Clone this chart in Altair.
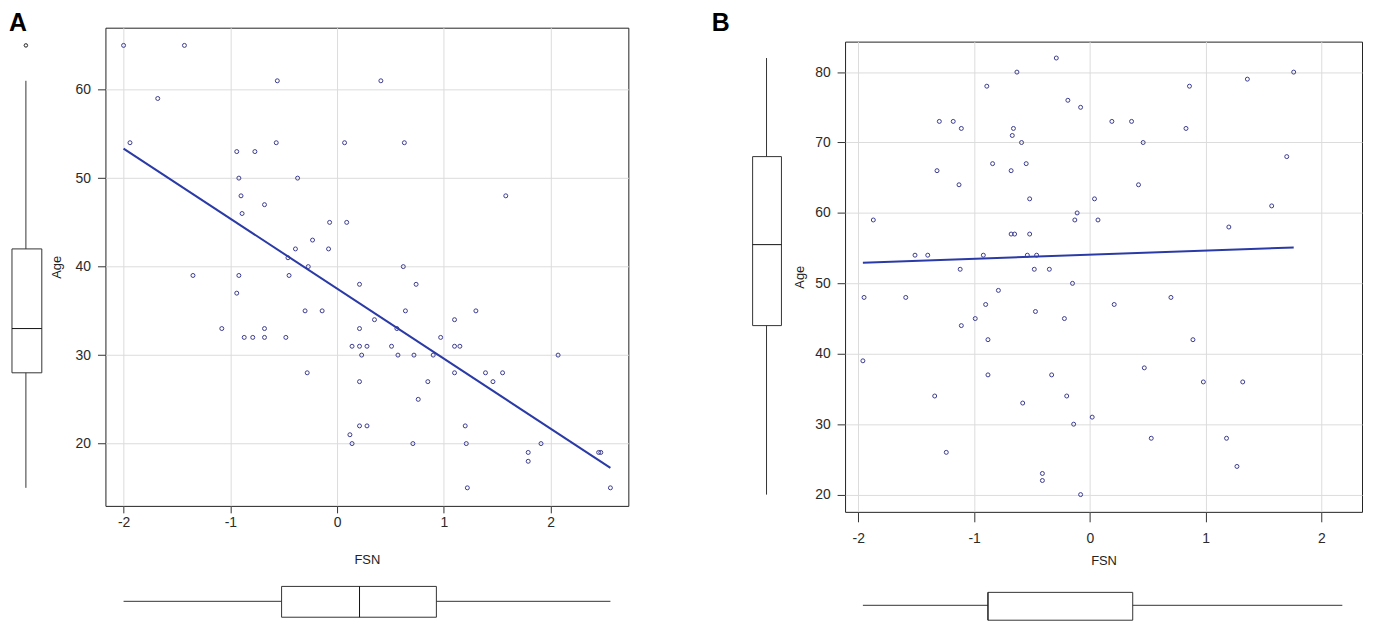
import altair as alt
import pandas as pd

# ---------------- data ----------------
A_FSN = [-2.00, -1.43, -0.56, 0.41, -1.68, -1.94, -0.57, 0.07, 0.63, -0.94,
         -0.77, -0.92, -0.37, -0.90, 1.58, -0.68, -0.89, -0.07, 0.09, -0.23,
         -0.39, -0.08, -0.46, -0.27, 0.62, -1.35, -0.92, -0.45, -0.94, 0.21,
         0.74, -0.30, -0.14, 0.64, 1.30, 0.35, 1.10, -1.08, -0.68, 0.21,
         0.56, -0.87, -0.79, -0.68, -0.48, 0.97, 0.14, 0.21, 0.28, 0.51,
         1.10, 1.15, 0.23, 0.57, 0.72, 0.90, 2.07, -0.28, 1.10, 1.39,
         1.55, 0.21, 0.85, 1.46, 0.76, 0.21, 0.28, 1.20, 0.12, 0.14,
         0.71, 1.21, 1.91, 1.79, 1.79, 2.47, 2.45, 1.22, 2.56]
A_AGE = [65, 65, 61, 61, 59, 54, 54, 54, 54, 53,
         53, 50, 50, 48, 48, 47, 46, 45, 45, 43,
         42, 42, 41, 40, 40, 39, 39, 39, 37, 38,
         38, 35, 35, 35, 35, 34, 34, 33, 33, 33,
         33, 32, 32, 32, 32, 32, 31, 31, 31, 31,
         31, 31, 30, 30, 30, 30, 30, 28, 28, 28,
         28, 27, 27, 27, 25, 22, 22, 22, 21, 20,
         20, 20, 20, 19, 18, 19, 19, 15, 15]

B_FSN = [-0.29, -0.63, 1.76, 1.36, -0.89, 0.86, -0.19, -0.08, -1.30, -1.18,
         0.19, 0.36, -1.11, -0.66, 0.83, -0.67, -0.59, 0.46, 1.70, -0.84,
         -0.55, -1.32, -0.68, -1.13, 0.42, -0.52, 0.04, 1.57, -0.11, -1.87,
         -0.13, 0.07, 1.20, -0.68, -0.65, -0.52, -1.51, -1.40, -0.92, -0.54,
         -0.46, -1.12, -0.48, -0.35, -0.15, -0.79, -1.95, -1.59, 0.70, -0.90,
         0.21, -0.47, -0.99, -0.22, -1.11, -0.88, 0.89, -1.96, 0.47, -0.88,
         -0.33, 0.98, 1.32, -1.34, -0.20, -0.58, 0.02, -0.14, 0.53, 1.18,
         -1.24, 1.27, -0.41, -0.41, -0.08]
B_AGE = [82, 80, 80, 79, 78, 78, 76, 75, 73, 73,
         73, 73, 72, 72, 72, 71, 70, 70, 68, 67,
         67, 66, 66, 64, 64, 62, 62, 61, 60, 59,
         59, 59, 58, 57, 57, 57, 54, 54, 54, 54,
         54, 52, 52, 52, 50, 49, 48, 48, 48, 47,
         47, 46, 45, 45, 44, 42, 42, 39, 38, 37,
         37, 36, 36, 34, 34, 33, 31, 30, 28, 28,
         26, 24, 23, 22, 20]

# box plot summaries as drawn: [lower whisker, Q1, median, Q3, upper whisker]
A_AGE_BOX = [15, 28, 33, 42, 61]
A_AGE_OUT = [65, 65]
A_FSN_BOX = [-2.00, -0.52, 0.21, 0.93, 2.56]
B_AGE_BOX = [20, 44, 55.5, 68, 82]
B_AGE_OUT = []
B_FSN_BOX = [-1.96, -0.88, -0.88, 0.37, 2.18]

X_TICKS = [-2, -1, 0, 1, 2]
A_Y_TICKS = [20, 30, 40, 50, 60]
B_Y_TICKS = [20, 30, 40, 50, 60, 70, 80]
PANEL_LABELS = ["A", "B"]

PT = "#3b3b8f"
LINE = "#2a3aa6"
BOX = "#333333"
FONT = "Liberation Sans"


def box_df(stats):
    return pd.DataFrame({"lo": [stats[0]], "q1": [stats[1]], "med": [stats[2]],
                         "q3": [stats[3]], "hi": [stats[4]]})


def label_chart(label, lx, ly):
    ldf = pd.DataFrame({"t": [label]})
    return alt.Chart(ldf).mark_text(font=FONT, fontSize=25, fontWeight="bold",
                                    align="left", baseline="alphabetic",
                                    color="#000").encode(
        text="t:N", x=alt.value(lx), y=alt.value(ly))


def panel(fsn, age, age_box, age_out, fsn_box, xdom, ydom, yticks,
          W, H, lay, extra=None):
    df = pd.DataFrame({"FSN": fsn, "Age": age})
    xs = alt.Scale(domain=xdom, nice=False, zero=False)
    ys = alt.Scale(domain=ydom, nice=False, zero=False)
    xax = alt.Axis(values=X_TICKS, labelExpr="'' + datum.value",
                   tickSize=lay["xtick"], labelPadding=lay["xpad"],
                   titleY=lay["xtitle"], titleBaseline="middle",
                   labelFlush=False)
    yax = alt.Axis(values=yticks, labelExpr="'' + datum.value",
                   tickSize=8, labelPadding=7, titleX=lay["ytitle"],
                   titleY=H / 2, titleAngle=270, titleAlign="center",
                   titleBaseline="middle")

    def X(f):
        return alt.X(f, scale=xs, axis=xax, title="FSN")

    def Y(f):
        return alt.Y(f, scale=ys, axis=yax, title="Age")

    pts = alt.Chart(df).mark_point(shape="circle", filled=False, size=16,
                                   strokeWidth=1, color=PT, opacity=1).encode(
        x=X("FSN:Q"), y=Y("Age:Q"))
    reg = alt.Chart(df).transform_regression("FSN", "Age").mark_line(
        color=LINE, strokeWidth=2).encode(x=X("FSN:Q"), y=Y("Age:Q"))

    lb = alt.Chart(box_df(age_box))
    l_rect = lb.mark_rect(fill="white", stroke=BOX, strokeWidth=1).encode(
        y=Y("q1:Q"), y2="q3:Q",
        x=alt.value(lay["lbx1"]), x2=alt.value(lay["lbx2"]))
    l_w1 = lb.mark_rule(color=BOX, strokeWidth=1).encode(
        y=Y("lo:Q"), y2="q1:Q", x=alt.value(lay["lbw"]))
    l_w2 = lb.mark_rule(color=BOX, strokeWidth=1).encode(
        y=Y("q3:Q"), y2="hi:Q", x=alt.value(lay["lbw"]))
    l_med = lb.mark_rule(color="#111", strokeWidth=1).encode(
        y=Y("med:Q"), x=alt.value(lay["lbx1"]), x2=alt.value(lay["lbx2"]))

    fb = alt.Chart(box_df(fsn_box))
    b_rect = fb.mark_rect(fill="white", stroke=BOX, strokeWidth=1).encode(
        x=X("q1:Q"), x2="q3:Q",
        y=alt.value(lay["bby1"]), y2=alt.value(lay["bby2"]))
    b_w1 = fb.mark_rule(color=BOX, strokeWidth=1).encode(
        x=X("lo:Q"), x2="q1:Q", y=alt.value(lay["bbw"]))
    b_w2 = fb.mark_rule(color=BOX, strokeWidth=1).encode(
        x=X("q3:Q"), x2="hi:Q", y=alt.value(lay["bbw"]))
    b_med = fb.mark_rule(color="#111", strokeWidth=1).encode(
        x=X("med:Q"), y=alt.value(lay["bby1"]), y2=alt.value(lay["bby2"]))

    layers = [pts, reg, l_rect, l_w1, l_w2, l_med, b_rect, b_w1, b_w2, b_med]
    if extra is not None:
        layers.append(extra)
    if len(age_out) > 0:
        odf = pd.DataFrame({"out": age_out})
        outl = alt.Chart(odf).mark_point(shape="circle", filled=False, size=12,
                                         strokeWidth=1, color=BOX).encode(
            y=Y("out:Q"), x=alt.value(lay["lbw"]))
        layers.append(outl)
    return alt.layer(*layers).properties(width=W, height=H)


lay_a = dict(xtick=7, xpad=3, xtitle=54, ytitle=-49,
             lbx1=-94, lbx2=-64, lbw=-80,
             bby1=562, bby2=593, bbw=577)
lay_b = dict(xtick=10, xpad=10, xtitle=49, ytitle=-46,
             lbx1=-93, lbx2=-64, lbw=-79,
             bby1=554, bby2=582, bbw=567)

pa = panel(A_FSN, A_AGE, A_AGE_BOX, A_AGE_OUT, A_FSN_BOX,
           [-2.17, 2.728], [12.96, 67.0], A_Y_TICKS, 526, 481, lay_a,
           extra=label_chart(PANEL_LABELS[0], -97, 3))
pb = panel(B_FSN, B_AGE, B_AGE_BOX, B_AGE_OUT, B_FSN_BOX,
           [-2.114, 2.350], [17.55, 84.33], B_Y_TICKS, 520, 473, lay_b)
b_label = label_chart(PANEL_LABELS[1], -134, 3).properties(
    width=1, height=1, view=alt.ViewBackground(stroke="transparent"))

right = alt.vconcat(b_label, pb, spacing=4)

chart = alt.hconcat(pa, right, spacing=82).resolve_scale(
    x="independent", y="independent"
).properties(
    padding={"left": 0, "top": 0, "right": 2, "bottom": 2}
).configure_view(
    stroke="#222", strokeWidth=1
).configure_axis(
    domain=False, tickColor="#333", tickWidth=1,
    gridColor="#dcdcdc", gridWidth=1,
    labelFont=FONT, labelFontSize=14, labelColor="#2a2a2a",
    titleFont=FONT, titleFontSize=13, titleFontWeight="normal",
    titleColor="#222"
).configure_axisX(labelAngle=0)

chart.save("out.html", embed_options={"renderer": "svg", "actions": False})
